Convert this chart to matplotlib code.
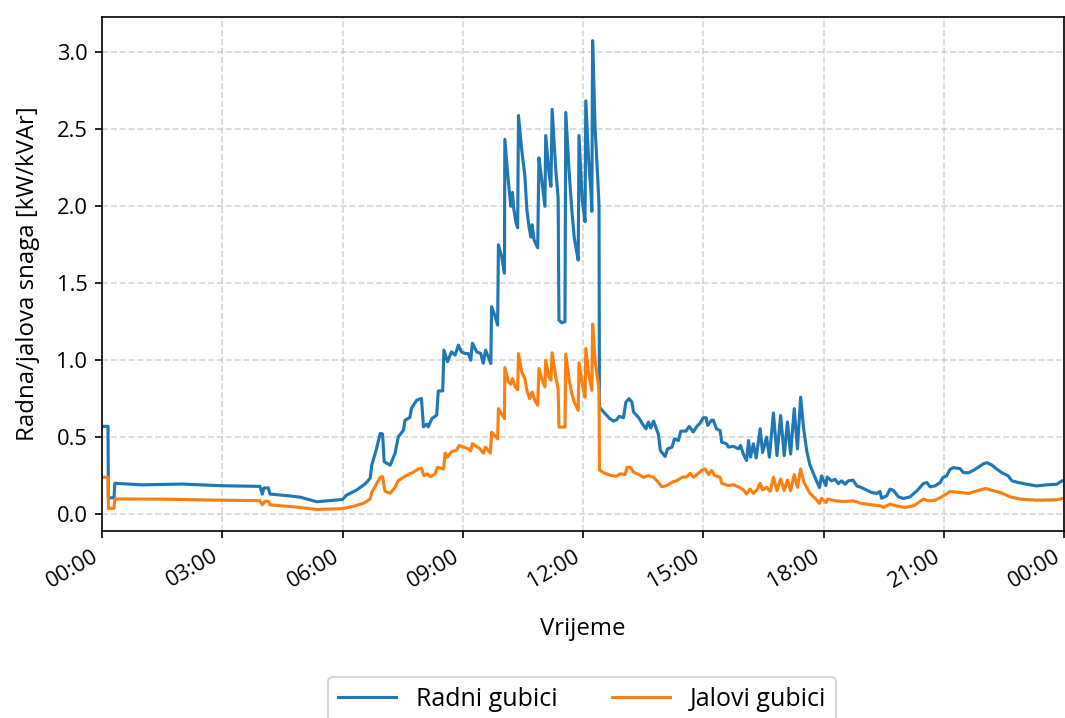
import pandas as pd
import numpy as np
import matplotlib
matplotlib.use('Agg')
import matplotlib.pyplot as plt
import matplotlib.dates as mdates

plt.rcParams['font.family'] = ['Open Sans', 'DejaVu Sans']

# time of day in hours
radni_h = [0.00, 0.15, 0.16, 0.30, 0.32, 1.0, 2.0, 3.0, 3.94, 4.0, 4.04, 4.15, 4.19, 4.6, 4.94, 5.36, 5.77, 6.0,
           6.1, 6.35, 6.56, 6.69, 6.73, 6.84, 6.94, 7.0, 7.04, 7.19, 7.31, 7.39, 7.52, 7.56, 7.68, 7.72, 7.85,
           7.97, 8.02, 8.1, 8.14, 8.23, 8.35, 8.39, 8.50, 8.53, 8.62, 8.72, 8.81, 8.89, 8.97, 9.06, 9.14, 9.2,
           9.24, 9.35, 9.45, 9.51, 9.57, 9.64, 9.70, 9.72, 9.81, 9.87, 9.89, 9.97, 10.04, 10.05, 10.14, 10.2,
           10.24, 10.27, 10.33, 10.37, 10.39, 10.47, 10.55, 10.6, 10.65, 10.7, 10.73, 10.78, 10.87, 10.9, 10.97,
           11.05, 11.07, 11.15, 11.2, 11.23, 11.32, 11.38, 11.4, 11.47, 11.55, 11.57, 11.65, 11.72, 11.78, 11.84,
           11.88, 11.9, 11.98, 12.05, 12.07, 12.14, 12.2, 12.22, 12.24, 12.3, 12.37, 12.4, 12.41, 12.55, 12.67,
           12.76, 12.84, 12.9, 13.01, 13.07, 13.15, 13.22, 13.26, 13.39, 13.51, 13.57, 13.63, 13.69, 13.76, 13.88,
           13.93, 14.05, 14.11, 14.22, 14.28, 14.38, 14.44, 14.57, 14.65, 14.75, 14.84, 14.92, 15.0, 15.07, 15.11,
           15.21, 15.25, 15.33, 15.42, 15.46, 15.58, 15.63, 15.75, 15.88, 15.93, 16.0, 16.08, 16.13, 16.18, 16.25,
           16.32, 16.42, 16.48, 16.54, 16.58, 16.65, 16.75, 16.84, 16.93, 17.02, 17.1, 17.18, 17.27, 17.35, 17.43,
           17.5, 17.58, 17.66, 17.79, 17.9, 17.95, 18.06, 18.09, 18.2, 18.29, 18.37, 18.45, 18.54, 18.62, 18.74,
           18.83, 18.95, 19.08, 19.2, 19.33, 19.41, 19.45, 19.58, 19.66, 19.74, 19.87, 19.99, 20.16, 20.33, 20.49,
           20.58, 20.66, 20.78, 20.91, 20.98, 21.07, 21.16, 21.24, 21.41, 21.49, 21.62, 21.74, 21.87, 22.0, 22.08,
           22.2, 22.33, 22.45, 22.61, 22.7, 22.86, 23.07, 23.32, 23.57, 23.82, 23.95, 24.0]
radni = [0.57, 0.57, 0.106, 0.106, 0.20, 0.19, 0.195, 0.184, 0.18, 0.13, 0.17, 0.17, 0.13, 0.12, 0.11, 0.08, 0.09,
         0.095, 0.123, 0.156, 0.195, 0.232, 0.318, 0.416, 0.524, 0.52, 0.34, 0.318, 0.394, 0.50, 0.545, 0.61, 0.628,
         0.686, 0.74, 0.751, 0.567, 0.584, 0.567, 0.62, 0.643, 0.80, 0.80, 1.065, 0.99, 1.054, 1.033, 1.098, 1.054,
         1.043, 1.043, 1.0, 1.11, 1.054, 1.043, 0.98, 1.065, 1.02, 0.978, 1.348, 1.283, 1.228, 1.75, 1.674, 1.565,
         2.435, 2.152, 2.0, 2.09, 1.99, 1.89, 1.86, 2.59, 2.37, 2.196, 1.978, 1.87, 1.80, 1.88, 1.78, 1.73, 2.315,
         2.174, 2.0, 2.46, 2.217, 2.13, 2.63, 2.24, 2.054, 1.26, 1.243, 1.25, 2.61, 2.24, 1.978, 1.80, 1.707, 1.65,
         2.46, 2.04, 1.9, 2.685, 2.304, 2.087, 1.967, 3.076, 2.52, 2.17, 2.0, 0.696, 0.652, 0.62, 0.604, 0.613,
         0.635, 0.626, 0.728, 0.75, 0.728, 0.663, 0.626, 0.576, 0.554, 0.598, 0.56, 0.604, 0.52, 0.413, 0.374,
         0.424, 0.435, 0.489, 0.478, 0.539, 0.539, 0.57, 0.533, 0.57, 0.59, 0.626, 0.626, 0.576, 0.61, 0.61, 0.554,
         0.543, 0.467, 0.457, 0.435, 0.44, 0.424, 0.446, 0.39, 0.348, 0.478, 0.37, 0.457, 0.365, 0.554, 0.40, 0.457,
         0.5, 0.37, 0.657, 0.38, 0.641, 0.38, 0.598, 0.39, 0.685, 0.424, 0.76, 0.565, 0.413, 0.32, 0.237, 0.172,
         0.248, 0.185, 0.241, 0.216, 0.226, 0.198, 0.216, 0.194, 0.216, 0.22, 0.183, 0.172, 0.155, 0.14, 0.134,
         0.147, 0.103, 0.119, 0.162, 0.155, 0.112, 0.101, 0.112, 0.151, 0.198, 0.205, 0.177, 0.183, 0.205, 0.237,
         0.248, 0.291, 0.302, 0.295, 0.269, 0.269, 0.284, 0.306, 0.328, 0.334, 0.319, 0.291, 0.269, 0.248, 0.216,
         0.205, 0.194, 0.183, 0.19, 0.194, 0.216, 0.216]

jalovi_h = [0.0, 0.15, 0.16, 0.30, 0.32, 1.5, 3.0, 3.94, 4.0, 4.06, 4.15, 4.19, 4.94, 5.36, 5.98, 6.27, 6.52, 6.69,
            6.73, 6.85, 6.94, 7.0, 7.06, 7.19, 7.31, 7.39, 7.52, 7.64, 7.77, 7.89, 7.97, 8.03, 8.12, 8.19, 8.31,
            8.37, 8.52, 8.56, 8.62, 8.72, 8.85, 8.91, 9.02, 9.14, 9.2, 9.24, 9.43, 9.51, 9.57, 9.69, 9.72, 9.87,
            9.89, 10.04, 10.05, 10.14, 10.2, 10.24, 10.31, 10.37, 10.39, 10.47, 10.55, 10.6, 10.67, 10.73, 10.8,
            10.87, 10.9, 10.97, 11.05, 11.07, 11.15, 11.2, 11.23, 11.32, 11.38, 11.4, 11.55, 11.57, 11.65, 11.72,
            11.78, 11.88, 11.9, 11.98, 12.05, 12.07, 12.14, 12.22, 12.24, 12.3, 12.37, 12.4, 12.41, 12.54, 12.66,
            12.71, 12.84, 12.92, 13.05, 13.1, 13.18, 13.26, 13.39, 13.51, 13.63, 13.76, 13.88, 13.96, 14.09, 14.22,
            14.34, 14.47, 14.59, 14.67, 14.76, 14.88, 14.96, 15.05, 15.13, 15.21, 15.29, 15.42, 15.46, 15.63, 15.75,
            15.9, 16.0, 16.08, 16.17, 16.25, 16.34, 16.42, 16.48, 16.58, 16.67, 16.75, 16.84, 16.93, 17.02, 17.1,
            17.18, 17.27, 17.35, 17.43, 17.51, 17.66, 17.79, 17.9, 17.95, 18.06, 18.1, 18.3, 18.5, 18.74, 18.95,
            19.2, 19.41, 19.5, 19.66, 19.79, 20.03, 20.25, 20.49, 20.62, 20.78, 20.95, 21.16, 21.41, 21.62, 21.83,
            22.04, 22.2, 22.41, 22.66, 22.91, 23.32, 23.82, 24.0]
jalovi = [0.239, 0.239, 0.037, 0.037, 0.098, 0.097, 0.09, 0.087, 0.06, 0.083, 0.083, 0.06, 0.043, 0.03, 0.035, 0.05,
          0.07, 0.098, 0.141, 0.196, 0.239, 0.243, 0.148, 0.135, 0.174, 0.217, 0.239, 0.257, 0.272, 0.293, 0.298,
          0.25, 0.261, 0.243, 0.261, 0.304, 0.293, 0.396, 0.37, 0.405, 0.417, 0.446, 0.435, 0.424, 0.41, 0.457,
          0.424, 0.396, 0.435, 0.396, 0.533, 0.489, 0.685, 0.62, 0.952, 0.859, 0.843, 0.88, 0.826, 0.809, 1.043,
          0.924, 0.88, 0.804, 0.75, 0.793, 0.739, 0.707, 0.946, 0.88, 0.826, 1.0, 0.891, 0.87, 1.048, 0.891, 0.815,
          0.565, 0.565, 1.039, 0.88, 0.783, 0.728, 0.674, 0.983, 0.848, 0.761, 1.076, 0.913, 0.804, 1.235, 1.0,
          0.87, 0.804, 0.287, 0.265, 0.254, 0.25, 0.246, 0.261, 0.257, 0.304, 0.304, 0.272, 0.257, 0.239, 0.25,
          0.239, 0.207, 0.178, 0.185, 0.207, 0.217, 0.239, 0.243, 0.265, 0.239, 0.265, 0.283, 0.293, 0.257, 0.283,
          0.25, 0.239, 0.2, 0.185, 0.191, 0.174, 0.157, 0.13, 0.163, 0.135, 0.157, 0.2, 0.157, 0.174, 0.148, 0.239,
          0.152, 0.228, 0.152, 0.222, 0.152, 0.257, 0.174, 0.293, 0.207, 0.135, 0.103, 0.069, 0.103, 0.075, 0.097,
          0.086, 0.082, 0.086, 0.069, 0.06, 0.054, 0.043, 0.065, 0.054, 0.043, 0.054, 0.097, 0.086, 0.09, 0.112,
          0.147, 0.14, 0.134, 0.151, 0.166, 0.155, 0.14, 0.112, 0.097, 0.09, 0.093, 0.103]

day = pd.Timestamp('2023-01-01')
t_radni = (day + pd.to_timedelta(radni_h, unit='h')).to_numpy()
t_jalovi = (day + pd.to_timedelta(jalovi_h, unit='h')).to_numpy()

fig = plt.figure(figsize=(7.1, 718 / 150), dpi=150)
ax = fig.add_axes([102 / 1065, 1 - 531 / 718, 962 / 1065, 514 / 718])

ax.plot(t_radni, radni, color='#1f77b4', lw=1.5, label='Radni gubici')
ax.plot(t_jalovi, jalovi, color='#ff7f0e', lw=1.5, label='Jalovi gubici')

ax.set_xlim(day, day + pd.Timedelta(hours=24))
ax.set_ylim(-0.11, 3.23)
ax.xaxis.set_major_locator(mdates.HourLocator(interval=3))
ax.xaxis.set_major_formatter(mdates.DateFormatter('%H:%M'))
for lbl in ax.get_xticklabels():
    lbl.set_rotation(30)
    lbl.set_ha('right')
ax.tick_params(labelsize=10.5)
ax.grid(True, linestyle='--', alpha=0.5)
ax.set_xlabel('Vrijeme', fontsize=11.5, labelpad=12)
ax.set_ylabel('Radna/jalova snaga [kW/kVAr]', fontsize=11.5, labelpad=8)

fig.legend(loc='upper center', bbox_to_anchor=(582 / 1065, 1 - 664 / 718), ncol=2, fontsize=12,
           handlelength=2.3, columnspacing=2.2)

plt.savefig('out.png', dpi=150)
plt.close()
